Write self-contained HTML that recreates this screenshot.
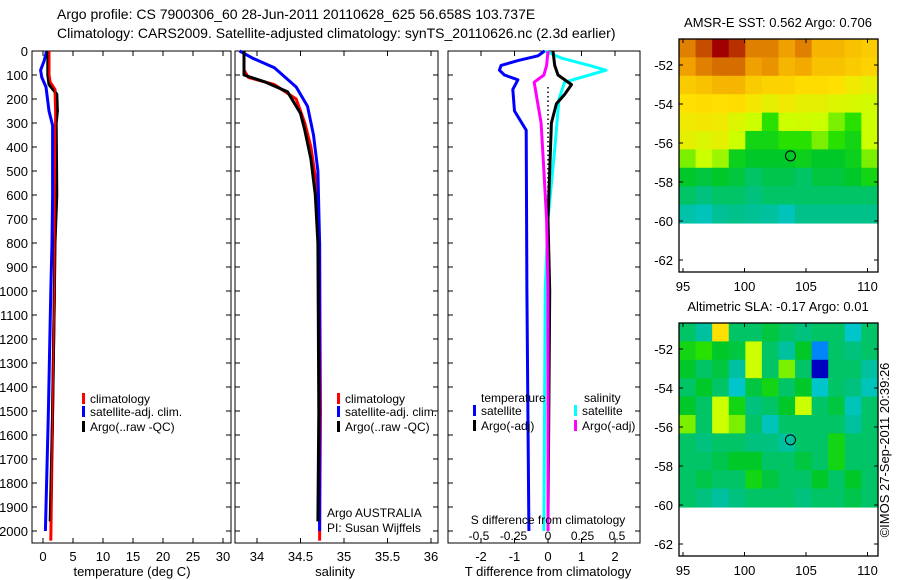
<!DOCTYPE html>
<html><head><meta charset="utf-8">
<style>
body{margin:0;background:#fff;}
svg{display:block;font-family:"Liberation Sans",sans-serif;}
text{fill:#000;font-size:13px;}
</style></head>
<body>
<svg id="chart" width="900" height="580" viewBox="0 0 900 580" xmlns="http://www.w3.org/2000/svg">
<text x="57" y="19" style="font-size:14px">Argo profile: CS 7900306_60 28-Jun-2011 20110628_625 56.658S 103.737E</text>
<text x="57" y="38" style="font-size:14px">Climatology: CARS2009. Satellite-adjusted climatology: synTS_20110626.nc (2.3d earlier)</text>
<g id="g"></g>
</svg>
<script>
// ---- profile data ----
const depthTicks=[0,100,200,300,400,500,600,700,800,900,1000,1100,1200,1300,1400,1500,1600,1700,1800,1900,2000];
const tempTicks=[0,5,10,15,20,25,30];
const salTicks=[34,34.5,35,35.5,36];
const salTickLabels=["34","34.5","35","35.5","36"];
const tdiffTicks=[-2,-1,0,1,2];
const sdiffTicks=[-0.5,-0.25,0,0.25,0.5];
const sdiffTickLabels=["-0.5","-0.25","0","0.25","0.5"];

const tClimDepth=[0,100,130,160,250,300,600,1000,1500,2040];
const tClimVal=[1.0,1.0,1.2,2.0,2.1,2.1,2.0,1.9,1.6,1.3];
const tSatDepth=[0,40,80,110,150,250,310,600,800,1000,1500,2000];
const tSatVal=[0.6,0.2,-0.4,-0.2,0.5,1.0,1.6,1.6,1.5,1.3,0.9,0.4];
const tArgoDepth=[0,100,140,180,250,300,600,800,1000,1500,1960];
const tArgoVal=[0.8,0.8,1.0,2.3,2.4,2.2,2.3,2.0,1.9,1.6,1.2];

const sClimDepth=[0,80,110,140,200,300,400,550,800,1500,2040];
const sClimVal=[33.85,33.85,33.9,34.2,34.45,34.55,34.62,34.68,34.72,34.73,34.72];
const sSatDepth=[0,30,70,150,230,350,500,800,2000];
const sSatVal=[33.8,33.95,34.2,34.45,34.58,34.65,34.7,34.72,34.72];
const sArgoDepth=[0,100,130,170,260,330,450,600,800,1500,1960];
const sArgoVal=[33.85,33.85,34.1,34.35,34.5,34.55,34.62,34.67,34.7,34.71,34.7];

const dTSatDepth=[0,20,40,60,80,100,120,160,250,330,1000,2000];
const dTSatVal=[-0.1,-0.3,-0.9,-1.4,-1.45,-1.3,-0.9,-1.05,-1.0,-0.65,-0.63,-0.57];
const dTArgoDepth=[0,60,100,140,180,220,300,500,700,1000,1960];
const dTArgoVal=[0.15,0.2,0.3,0.7,0.5,0.25,0.1,0.05,0,0.05,0];
const dSSatDepth=[0,30,60,80,100,130,200,400,700,1000,2000];
const dSSatVal=[-0.02,0.1,0.3,0.42,0.3,0.12,0.08,0.05,0,-0.02,-0.03];
const dSArgoDepth=[0,60,100,130,200,300,500,700,1000,2000];
const dSArgoVal=[0,-0.01,-0.03,-0.1,-0.08,-0.05,-0.03,-0.01,0,0];

// ---- map data (rows north->south, cols west->east) ----
const sstGrid=[
[.85,.92,1,.95,.85,.85,.8,.85,.75,.75,.72,.7],
[.8,.85,.88,.88,.8,.82,.75,.78,.72,.72,.7,.68],
[.7,.72,.75,.75,.7,.68,.68,.66,.66,.65,.62,.6],
[.65,.66,.65,.66,.63,.6,.62,.6,.6,.58,.57,.56],
[.62,.63,.62,.58,.55,.45,.55,.56,.55,.5,.45,.55],
[.6,.58,.6,.55,.4,.4,.45,.45,.5,.45,.4,.55],
[.5,.55,.52,.38,.35,.35,.35,.38,.35,.35,.38,.5],
[.35,.33,.35,.33,.3,.32,.32,.3,.33,.33,.35,.4],
[.3,.28,.3,.3,.28,.3,.3,.3,.3,.3,.3,.3],
[.24,.22,.26,.27,.26,.25,.22,.27,.27,.27,.27,.27]];
const slaGrid=[
[.3,.25,.65,.3,.3,.33,.3,.28,.3,.3,.2,.3],
[.4,.45,.35,.33,.55,.3,.25,.35,.12,.3,.28,.3],
[.35,.3,.33,.25,.55,.3,.5,.3,.0,.3,.3,.25],
[.3,.35,.3,.2,.33,.4,.3,.35,.2,.3,.28,.22],
[.35,.3,.55,.4,.28,.3,.35,.55,.3,.33,.22,.3],
[.5,.3,.55,.5,.3,.22,.3,.3,.3,.3,.25,.3],
[.3,.28,.3,.3,.28,.28,.25,.3,.3,.4,.3,.3],
[.3,.3,.32,.35,.35,.3,.3,.33,.3,.4,.3,.3],
[.3,.32,.3,.3,.4,.33,.3,.3,.35,.3,.35,.3],
[.3,.28,.25,.28,.3,.3,.3,.28,.3,.3,.32,.3]];
const mapLatTicks=[-52,-54,-56,-58,-60,-62];
const mapLonTicks=[95,100,105,110];
const argoLon=103.737, argoLat=-56.658;

const NS="http://www.w3.org/2000/svg";
const G=document.getElementById('g');
function mk(tag,attrs,parent){const e=document.createElementNS(NS,tag);for(const k in attrs)e.setAttribute(k,attrs[k]);(parent||G).appendChild(e);return e;}
function txt(x,y,s,anchor,size,name){const t=mk('text',{x:x,y:y,'text-anchor':anchor||'start'});if(size)t.style.fontSize=size+'px';t.textContent=s;


return t;}

const Y=d=>51+d*0.24;
const TOP=51,BOT=543;
function frame(x0,x1,name){const r=mk('rect',{x:x0,y:TOP,width:x1-x0,height:BOT-TOP,fill:'none',stroke:'#000','stroke-width':1});

}
function yTicks(x0,x1,labels){depthTicks.forEach(d=>{const y=Y(d);
mk('line',{x1:x0,y1:y,x2:x0+5,y2:y,stroke:'#000'});mk('line',{x1:x1-5,y1:y,x2:x1,y2:y,stroke:'#000'});
if(labels)txt(x0-4,y+5,String(d),'end',13,'depth-tick-label');});}
function xTicks(X,ticks,labels,ly){ticks.forEach((v,i)=>{const x=X(v);
mk('line',{x1:x,y1:TOP,x2:x,y2:TOP+5,stroke:'#000'});mk('line',{x1:x,y1:BOT-5,x2:x,y2:BOT,stroke:'#000'});
if(labels)txt(x,ly,labels[i],'middle',13,'x-tick-label');});}
function line(X,ds,vs,color,name,w){const p=ds.map((d,i)=>X(vs[i]).toFixed(1)+','+Y(d).toFixed(1)).join(' ');
const e=mk('polyline',{points:p,fill:'none',stroke:color,'stroke-width':w||3,'stroke-linejoin':'round'});

}
function legendEntry(x,y,color,label,name){const r=mk('rect',{x:x,y:y-10,width:3,height:11,fill:color});


txt(x+8,y,label,'start',12,name);}

// Panel 1: temperature
const XT=t=>43+6*t;
frame(32,231,'temperature-panel');
yTicks(32,231,true);
xTicks(XT,tempTicks,tempTicks.map(String),561);
line(XT,tClimDepth,tClimVal,'#f00','temp-climatology-line');
line(XT,tSatDepth,tSatVal,'#00f','temp-satellite-line');
line(XT,tArgoDepth,tArgoVal,'#000','temp-argo-line');
line(XT,tClimDepth,tClimVal,'#f00','temp-climatology-line-over',1.5);
txt(132,576,'temperature (deg C)','middle',13,'temperature-axis-title');
legendEntry(82,403,'#f00','climatology','legend-climatology');
legendEntry(82,416,'#00f','satellite-adj. clim.','legend-satellite');
legendEntry(82,431,'#000','Argo(..raw -QC)','legend-argo');

// Panel 2: salinity
const XS=s=>257+87*(s-34);
frame(235,438,'salinity-panel');
yTicks(235,438,false);
xTicks(XS,salTicks,salTickLabels,561);
line(XS,sClimDepth,sClimVal,'#f00','sal-climatology-line');
line(XS,sSatDepth,sSatVal,'#00f','sal-satellite-line');
line(XS,sArgoDepth,sArgoVal,'#000','sal-argo-line');
txt(335,576,'salinity','middle',13,'salinity-axis-title');
legendEntry(337,403,'#f00','climatology','legend-climatology-2');
legendEntry(337,416,'#00f','satellite-adj. clim.','legend-satellite-2');
legendEntry(337,431,'#000','Argo(..raw -QC)','legend-argo-2');
txt(327,517,'Argo AUSTRALIA','start',12,'argo-australia-label');
txt(327,532,'PI: Susan Wijffels','start',12,'pi-label');

// Panel 3: differences
const XD=t=>548+33.5*t;
const XDS=s=>548+138*s;
frame(448,640,'difference-panel');
yTicks(448,640,false);
xTicks(XD,tdiffTicks,tdiffTicks.map(String),561);
mk('line',{x1:548,y1:Y(150),x2:548,y2:Y(700),stroke:'#000','stroke-width':1.5,'stroke-dasharray':'1.5,3'});
line(XD,dTSatDepth,dTSatVal,'#00f','tdiff-satellite-line');
line(XDS,dSSatDepth,dSSatVal,'#0ff','sdiff-satellite-line');
line(XD,dTArgoDepth,dTArgoVal,'#000','tdiff-argo-line');
line(XDS,dSArgoDepth,dSArgoVal,'#f0f','sdiff-argo-line');
sdiffTicks.forEach((v,i)=>txt(XDS(v),540,sdiffTickLabels[i],'middle',12,'s-diff-tick-label'));
txt(548,524,'S difference from climatology','middle',12,'s-diff-axis-title');
txt(548,576,'T difference from climatology','middle',13,'t-diff-axis-title');
txt(481,402,'temperature','start',12,'legend-temperature-heading');
txt(584,402,'salinity','start',12,'legend-salinity-heading');
legendEntry(473,415,'#00f','satellite','legend-t-satellite');
legendEntry(473,430,'#000','Argo(-adj)','legend-t-argo');
legendEntry(574,415,'#0ff','satellite','legend-s-satellite');
legendEntry(574,430,'#f0f','Argo(-adj)','legend-s-argo');

// Maps
const stops=[[0,[0,0,192]],[0.1,[0,112,255]],[0.18,[0,200,220]],[0.26,[0,192,150]],[0.35,[0,200,40]],[0.45,[40,225,0]],[0.55,[204,255,0]],[0.65,[255,224,0]],[0.8,[240,160,0]],[0.9,[208,96,0]],[1,[160,0,0]]];
function cmap(v){for(let i=1;i<stops.length;i++){if(v<=stops[i][0]){const a=stops[i-1],b=stops[i],f=(v-a[0])/(b[0]-a[0]);
const c=a[1].map((x,k)=>Math.round(x+(b[1][k]-x)*f));return 'rgb('+c.join(',')+')';}}return 'rgb(160,0,0)';}
function drawMap(top,grid,title,name,lonLabY){
 const x0=679,x1=878,y1=top+233;
 const LX=lon=>683+(lon-95)*12.3, LY=lat=>top+26+(-52-lat)*19.5;
 txt(778,top-12,title,'middle',13,name+'-title');
 const rows=grid.length,cols=grid[0].length;
 const latTop=-52+(26/19.5), latBot=-60.1, lonL=94.675, lonR=110.85;
 const g=mk('g',{});
 
 
 for(let r=0;r<rows;r++)for(let c=0;c<cols;c++){
  const la0=latTop+(latBot-latTop)*r/rows, la1=latTop+(latBot-latTop)*(r+1)/rows;
  const lo0=lonL+(lonR-lonL)*c/cols, lo1=lonL+(lonR-lonL)*(c+1)/cols;
  const yy=Math.max(top,LY(la0));
  mk('rect',{x:LX(lo0),y:yy,width:Math.min(LX(lo1),x1)-LX(lo0)+0.6,height:LY(la1)-yy+0.6,fill:cmap(grid[r][c])},g);}
 const fr=mk('rect',{x:x0,y:top,width:x1-x0,height:y1-top,fill:'none',stroke:'#000','stroke-width':1.3});
 
 
 mapLatTicks.forEach(l=>{const y=LY(l);mk('line',{x1:x0,y1:y,x2:x0+4,y2:y,stroke:'#000'});mk('line',{x1:x1-4,y1:y,x2:x1,y2:y,stroke:'#000'});txt(673,y+5,String(l),'end',13,'lat-tick-label');});
 mapLonTicks.forEach(l=>{const x=LX(l);mk('line',{x1:x,y1:y1-4,x2:x,y2:y1,stroke:'#000'});mk('line',{x1:x,y1:top,x2:x,y2:top+4,stroke:'#000'});txt(x,lonLabY,String(l),'middle',13,'lon-tick-label');});
 const m=mk('circle',{cx:LX(argoLon),cy:LY(argoLat),r:5,fill:'none',stroke:'#000','stroke-width':1});
 
 
}
drawMap(39,sstGrid,'AMSR-E SST: 0.562 Argo: 0.706','sst-map',291);
drawMap(323,slaGrid,'Altimetric SLA: -0.17 Argo: 0.01','sla-map',575);
const cr=txt(0,0,'©IMOS 27-Sep-2011 20:39:26','middle',13,'imos-credit');
cr.setAttribute('transform','translate(889,450) rotate(-90)');
</script>
</body></html>
